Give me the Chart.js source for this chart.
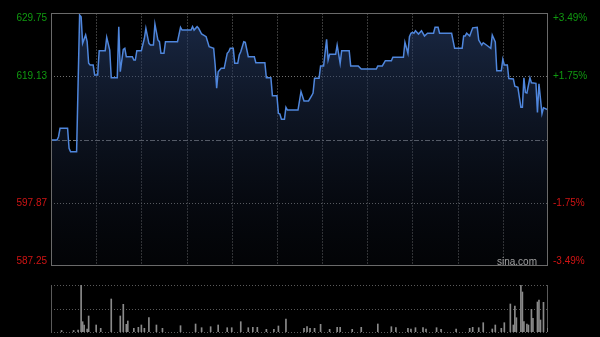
<!DOCTYPE html>
<html>
<head>
<meta charset="utf-8">
<script src="https://cdn.jsdelivr.net/npm/chart.js@4.4.0/dist/chart.umd.min.js"></script>
<style>
    html, body { margin: 0; padding: 0; background: #000; }
    #wrap { position: relative; width: 600px; height: 337px; background: #000; }
    #price { position: absolute; left: 0; top: 0; }
    #vol { position: absolute; left: 0; top: 280px; }
</style>
</head>
<body>
<div id="wrap">
    <canvas id="price" width="600" height="280"></canvas>
    <canvas id="vol" width="600" height="57"></canvas>
</div>
<script>
// intraday minutes since 09:30 (HK session, 330 trading minutes)
const minutes = [
    0, 4, 5, 6, 11, 12, 13, 17, 19, 20,
    21, 23, 24, 25, 26, 28, 29, 31, 32, 36,
    37, 39, 40, 44, 45, 46, 48, 49, 50, 54,
    55, 56, 57, 60, 62, 63, 65, 66, 68, 69,
    71, 72, 73, 75, 76, 84, 86, 87, 93, 94,
    95, 97, 98, 100, 103, 105, 108, 109, 110, 111,
    112, 113, 115, 117, 118, 119, 121, 122, 124, 125,
    126, 128, 129, 131, 135, 136, 142, 143, 146, 147,
    150, 151, 152, 153, 155, 156, 157, 164, 166, 168,
    171, 173, 174, 175, 178, 179, 181, 183, 184, 185,
    189, 190, 192, 193, 198, 199, 204, 206, 216, 217,
    220, 222, 226, 227, 234, 235, 237, 238, 239, 240,
    241, 242, 244, 246, 248, 250, 254, 255, 257, 258,
    266, 268, 273, 274, 275, 276, 278, 280, 283, 284,
    286, 287, 290, 292, 293, 295, 296, 299, 300, 301,
    303, 304, 307, 308, 310, 312, 313, 314, 315, 316,
    318, 319, 322, 323, 324, 326, 327, 330
];
const prices = [
    608.41, 608.41, 608.97, 610.38, 610.38, 607.02, 606.45, 606.45, 629.41, 629.13,
    624.66, 626.05, 624.93, 621.30, 621.01, 621.01, 619.33, 619.33, 623.42, 623.42,
    625.67, 623.53, 618.88, 618.88, 627.45, 619.89, 623.65, 623.82, 622.41, 622.41,
    621.85, 621.85, 623.42, 623.42, 625.50, 627.18, 624.66, 624.37, 624.37, 627.90,
    625.21, 624.93, 622.98, 622.98, 624.93, 624.93, 627.35, 626.89, 626.89, 627.45,
    626.89, 627.45, 627.18, 626.22, 625.77, 624.09, 623.82, 621.01, 617.10, 619.89,
    620.17, 620.46, 620.46, 622.98, 623.25, 623.82, 623.82, 621.30, 621.30, 622.69,
    623.25, 624.93, 624.83, 622.41, 622.41, 621.40, 621.40, 618.88, 618.88, 615.86,
    615.86, 612.90, 612.78, 611.89, 611.89, 613.91, 613.45, 613.45, 616.53, 614.97,
    614.97, 615.81, 616.31, 618.78, 618.78, 620.85, 620.85, 625.33, 621.85, 622.81,
    622.81, 624.37, 621.30, 623.42, 623.42, 620.85, 620.85, 620.34, 620.34, 620.85,
    620.85, 621.74, 621.74, 622.31, 622.31, 624.83, 622.98, 625.77, 626.34, 626.51,
    626.34, 626.78, 626.22, 626.78, 625.89, 626.34, 626.34, 627.35, 627.35, 626.34,
    626.34, 623.82, 623.82, 625.89, 625.89, 626.34, 625.89, 627.26, 627.35, 625.21,
    624.37, 624.76, 624.21, 623.82, 626.05, 624.88, 620.06, 620.06, 621.97, 621.01,
    621.01, 618.75, 618.66, 617.44, 617.27, 613.91, 613.91, 618.86, 616.39, 616.31,
    618.86, 618.04, 617.94, 613.03, 617.87, 612.83, 613.82, 613.50
];
const volMinutes = [
    7, 15, 18, 20, 21, 22, 24, 25, 30, 33,
    40, 46, 48, 50, 51, 55, 58, 60, 62, 65,
    70, 74, 86, 96, 100, 106, 111, 117, 120, 126,
    131, 134, 137, 143, 148, 151, 156, 168, 170, 172,
    175, 179, 185, 190, 192, 200, 206, 217, 226, 229,
    237, 239, 242, 247, 249, 256, 259, 269, 278, 280,
    284, 287, 293, 295, 299, 301, 305, 307, 308, 309,
    312, 313, 314, 316, 317, 319, 320, 323, 324, 325,
    327, 330
];
const volumes = [
    15, 15, 20, 470, 103, 70, 30, 160, 70, 37,
    330, 160, 277, 77, 110, 37, 47, 70, 37, 143,
    70, 37, 63, 80, 43, 53, 70, 43, 43, 103,
    43, 47, 47, 27, 27, 60, 130, 37, 53, 37,
    37, 77, 27, 47, 47, 27, 47, 80, 53, 43,
    37, 30, 43, 43, 30, 43, 27, 30, 37, 47,
    43, 93, 30, 70, 37, 93, 280, 70, 260, 143,
    470, 400, 103, 80, 70, 227, 137, 300, 320, 120,
    297, 37
];
const prevClose = 608.5;
const priceTicks = [587.25, 597.87, 608.5, 619.13, 629.75];
const timeGrid = [30, 60, 90, 120, 150, 180, 210, 240, 270, 300];

const FONT = '10px Arial, "Liberation Sans", sans-serif';

function hline(ctx, a, y, dash, color) {
    ctx.beginPath();
    ctx.setLineDash(dash);
    ctx.strokeStyle = color;
    ctx.moveTo(a.left, y);
    ctx.lineTo(a.right, y);
    ctx.stroke();
}

function vline(ctx, a, x, dash, color) {
    ctx.beginPath();
    ctx.setLineDash(dash);
    ctx.strokeStyle = color;
    ctx.moveTo(x, a.top);
    ctx.lineTo(x, a.bottom);
    ctx.stroke();
}

const priceFrame = {
    id: 'priceFrame',
    beforeDatasetsDraw(chart) {
        const { ctx, chartArea: a, scales: { x, y } } = chart;
        ctx.save();
        ctx.lineWidth = 1;
        timeGrid.forEach(m => {
            vline(ctx, a, Math.round(x.getPixelForValue(m)) + 0.5, [2, 1], '#3a3a3a');
        });
        priceTicks.forEach(v => {
            const py = Math.round(y.getPixelForValue(v)) + 0.5;
            if (v === prevClose) hline(ctx, a, py, [5, 2, 2, 2], '#7a7a7a');
            else if (v !== y.min && v !== y.max) hline(ctx, a, py, [1, 2], '#707070');
        });
        ctx.restore();
    },
    afterDraw(chart) {
        const { ctx, chartArea: a, scales: { y } } = chart;
        ctx.save();
        ctx.lineWidth = 1;
        ctx.setLineDash([]);
        ctx.strokeStyle = '#6a6a6a';
        ctx.strokeRect(a.left + 0.5, a.top + 0.5, a.right - a.left - 1, a.bottom - a.top - 1);

        ctx.font = FONT;
        priceTicks.forEach(v => {
            if (v === prevClose) return;
            const py = y.getPixelForValue(v);
            ctx.textBaseline = v === y.max ? 'top' : v === y.min ? 'bottom' : 'middle';
            const up = v > prevClose;
            ctx.fillStyle = up ? '#109a10' : '#d01414';
            ctx.textAlign = 'right';
            ctx.fillText(v.toFixed(2), a.left - 4, py);
            const pct = (v - prevClose) / prevClose * 100;
            ctx.textAlign = 'left';
            ctx.fillText((up ? '+' : '') + pct.toFixed(2) + '%', a.right + 5, py);
        });

        ctx.fillStyle = '#a0a0a0';
        ctx.textAlign = 'right';
        ctx.textBaseline = 'bottom';
        ctx.fillText('sina.com', a.right - 11, a.bottom + 1);
        ctx.restore();
    }
};

const volFrame = {
    id: 'volFrame',
    beforeDatasetsDraw(chart) {
        const { ctx, chartArea: a, scales: { y } } = chart;
        ctx.save();
        ctx.lineWidth = 1;
        [y.max, y.max / 2, 0].forEach(v => {
            hline(ctx, a, Math.round(y.getPixelForValue(v)) + 0.5, [1, 2], '#5a5a5a');
        });
        vline(ctx, a, a.left + 0.5, [], '#5a5a5a');
        vline(ctx, a, a.right - 0.5, [], '#5a5a5a');
        ctx.restore();
    }
};

new Chart(document.getElementById('price'), {
    type: 'line',
    data: {
        datasets: [{
            data: minutes.map((m, i) => ({ x: m, y: prices[i] })),
            borderColor: '#4f86dc',
            borderWidth: 1.5,
            pointRadius: 0,
            tension: 0,
            fill: 'start',
            backgroundColor: ctx => {
                const a = ctx.chart.chartArea;
                if (!a) return 'transparent';
                const g = ctx.chart.ctx.createLinearGradient(0, a.top, 0, a.bottom);
                g.addColorStop(0, 'rgba(42, 66, 112, 0.62)');
                g.addColorStop(1, 'rgba(14, 20, 34, 0.18)');
                return g;
            }
        }]
    },
    options: {
        responsive: false,
        animation: false,
        layout: { padding: { left: 51, right: 52, top: 13, bottom: 14 } },
        plugins: {
            legend: { display: false },
            tooltip: { enabled: false }
        },
        scales: {
            x: { type: 'linear', display: false, min: 0, max: 330 },
            y: { display: false, min: priceTicks[0], max: priceTicks[priceTicks.length - 1] }
        }
    },
    plugins: [priceFrame]
});

new Chart(document.getElementById('vol'), {
    type: 'bar',
    data: {
        datasets: [{
            data: volMinutes.map((m, i) => ({ x: m, y: volumes[i] })),
            backgroundColor: '#8a8a8a',
            barThickness: 1
        }]
    },
    options: {
        responsive: false,
        animation: false,
        layout: { padding: { left: 51, right: 52, top: 5, bottom: 5 } },
        plugins: {
            legend: { display: false },
            tooltip: { enabled: false }
        },
        scales: {
            x: { type: 'linear', display: false, offset: false, min: 0, max: 330 },
            y: { display: false, min: 0, max: 470 }
        }
    },
    plugins: [volFrame]
});
</script>
</body>
</html>
